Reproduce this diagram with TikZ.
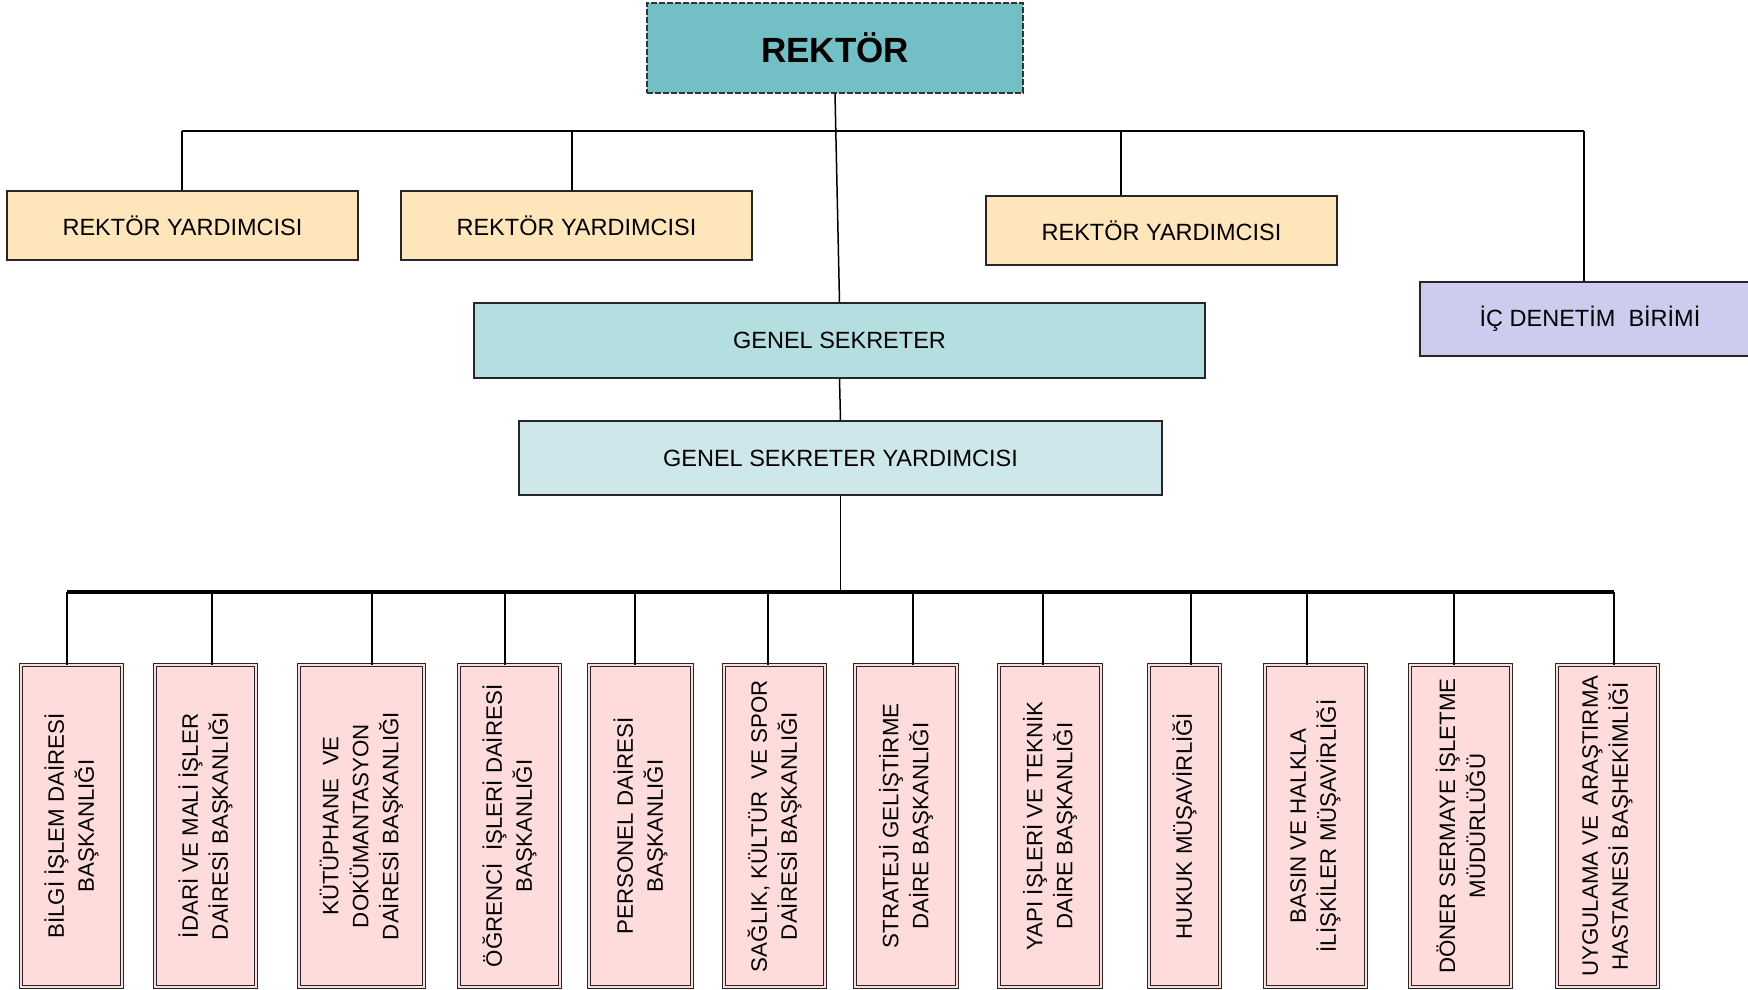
\documentclass[tikz,border=0pt]{standalone}
\usepackage{fontspec}
\setmainfont{Liberation Sans}
\definecolor{rekfill}{HTML}{72BFC5}
\definecolor{ryfill}{HTML}{FFE6BA}
\definecolor{gsfill}{HTML}{B5DEE1}
\definecolor{gsyfill}{HTML}{CDE7EB}
\definecolor{icfill}{HTML}{CCCCEE}
\definecolor{unitfill}{HTML}{FFDCDC}
\begin{document}
\begin{tikzpicture}[x=1pt,y=-1pt,
  box/.style={draw=black!85,line width=1.2pt,inner sep=0pt,font=\fontsize{23.5}{28}\selectfont},
  unit/.style={draw=black!85,line width=0.9pt,double=unitfill,double distance=1.6pt,fill=unitfill,inner sep=0pt},
  utext/.style={rotate=90,align=center,font=\fontsize{22.3}{30}\selectfont,inner sep=0pt},
  conn/.style={line width=1.5pt,black},
  bus/.style={line width=4.5pt,black}]
\useasboundingbox (0,0) rectangle (1748,990);
% top boxes
\node[box,draw=black!80,dashed,dash pattern=on 6pt off 2pt,fill=rekfill,minimum width=376pt,minimum height=90pt,font=\fontsize{35}{40}\selectfont\bfseries] (rek) at (835,48) {REKTÖR};
\node[box,fill=ryfill,minimum width=351pt,minimum height=69pt] (ry1) at (182.5,225.5) {REKTÖR YARDIMCISI};
\node[box,fill=ryfill,minimum width=351pt,minimum height=69pt] (ry2) at (576.5,225.5) {REKTÖR YARDIMCISI};
\node[box,fill=ryfill,minimum width=351pt,minimum height=69pt] (ry3) at (1161.5,230.5) {REKTÖR YARDIMCISI};
\node[box,fill=icfill,minimum width=340pt,minimum height=74pt] (ic) at (1590,319) {İÇ DENETİM~ BİRİMİ};
\node[box,fill=gsfill,minimum width=731pt,minimum height=75pt] (gs) at (839.5,340.5) {GENEL SEKRETER};
\node[box,fill=gsyfill,minimum width=643pt,minimum height=74pt] (gsy) at (840.5,458) {GENEL SEKRETER YARDIMCISI};
% top connectors
\coordinate (hl) at (182,131);
\coordinate (hr) at (1584,131);
\coordinate (h2) at (572,131);
\coordinate (h3) at (1121,131);
\draw[conn] (hl) -- (hr);
\draw[conn] (hl) -- (hl |- ry1.north);
\draw[conn] (h2) -- (h2 |- ry2.north);
\draw[conn] (h3) -- (h3 |- ry3.north);
\draw[conn] (hr) -- (hr |- ic.north);
\draw[conn] (rek.south) -- (gs.north);
\draw[conn] (gs.south) -- (gsy.north);
% bus
\coordinate (bl) at (67,592);
\coordinate (br) at (1614,592);
\draw[conn] (gsy.south) -- (gsy.south |- bl);
\draw[bus] (bl) -- (br);
% bottom units
\foreach \n/\xa/\xb/\cx/\txt in {
 u1/21/122/67/{BİLGİ İŞLEM DAİRESİ\\BAŞKANLIĞI},
 u2/155/256/212/{İDARİ VE MALİ İŞLER\\DAİRESİ BAŞKANLIĞI},
 u3/299/424/372/{KÜTÜPHANE~ VE\\DOKÜMANTASYON\\DAİRESİ BAŞKANLIĞI},
 u4/459/560/505/{ÖĞRENCİ~ İŞLERİ DAİRESİ\\BAŞKANLIĞI},
 u5/589/692/635/{PERSONEL DAİRESİ\\BAŞKANLIĞI},
 u6/724/825/768/{SAĞLIK, KÜLTÜR~ VE SPOR\\DAİRESİ BAŞKANLIĞI},
 u7/855/957/913/{STRATEJİ GELİŞTİRME\\DAİRE BAŞKANLIĞI},
 u8/999/1101/1043/{YAPI İŞLERİ VE TEKNİK\\DAİRE BAŞKANLIĞI},
 u9/1149/1220/1191/{HUKUK MÜŞAVİRLİĞİ},
 u10/1265/1366/1307/{BASIN VE HALKLA\\İLİŞKİLER MÜŞAVİRLİĞİ},
 u11/1410/1511/1454/{DÖNER SERMAYE İŞLETME\\MÜDÜRLÜĞÜ},
 u12/1557/1658/1614/{UYGULAMA VE\, ARAŞTIRMA\\HASTANESİ BAŞHEKİMLİĞİ}} {
  \node[unit,minimum width={\xb-\xa},minimum height=322pt] (\n) at ({(\xa+\xb)/2},826) {};
  \node[utext] (\n t) at (\n.center) {\txt};
  \coordinate (\n c) at (\cx,592);
  \draw[conn] (\n c) -- (\n c |- \n.north);
}
\end{tikzpicture}
\end{document}
